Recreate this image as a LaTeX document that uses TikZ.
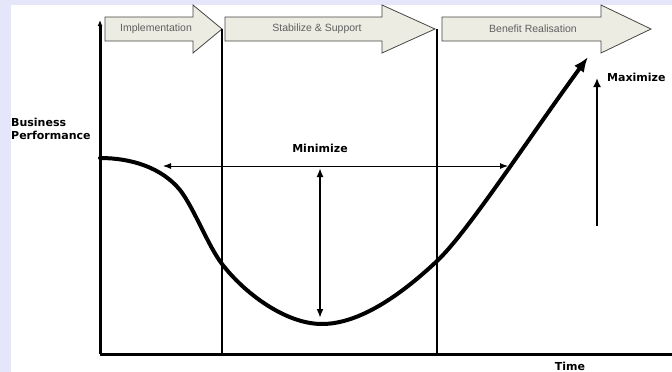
\documentclass[tikz,border=0pt]{standalone}
\usepackage{fontspec}
\setmainfont{Liberation Sans}
\newfontfamily\heavyfont{DejaVu Sans}
\usetikzlibrary{arrows.meta}
\definecolor{bgblue}{RGB}{230,230,250}
\definecolor{phasefill}{RGB}{236,236,226}
\definecolor{phaseline}{RGB}{70,70,70}
\definecolor{phasetext}{RGB}{95,95,95}
\tikzset{
  phase/.style={fill=phasefill, draw=phaseline, line width=0.8pt, line join=miter},
  phaselabel/.style={text=phasetext, font=\fontsize{10.5}{12}\selectfont, inner sep=0pt},
  biglabel/.style={font=\heavyfont\bfseries\fontsize{11}{13}\selectfont, inner sep=0pt, align=left},
  axis/.style={line width=3pt},
  divider/.style={line width=1.5pt},
  perf/.style={line width=4pt, line cap=round, -{Latex[length=15pt,width=12pt]}},
  span/.style={line width=0.9pt, {Latex[length=8pt,width=6pt]}-{Latex[length=8pt,width=6pt]}},
  drop/.style={line width=2pt, {Latex[length=9pt,width=7pt]}-{Latex[length=9pt,width=7pt]}},
  gain/.style={line width=2.5pt, -{Latex[length=9pt,width=8pt]}}
}
\begin{document}
\begin{tikzpicture}[x=1pt,y=-1pt]
\useasboundingbox (0,0) rectangle (672,372);
\fill[bgblue] (0,0) rectangle (672,372);
\fill[white] (11,5) rectangle (672,372);

% phases
\filldraw[phase] (105,17) -- (193,17) -- (193,5) -- (222,29) -- (193,53) -- (193,41) -- (105,41) -- cycle;
\filldraw[phase] (225,17) -- (382,17) -- (382,5) -- (435,29) -- (382,53) -- (382,41) -- (225,41) -- cycle;
\filldraw[phase] (442,17) -- (601,17) -- (601,5) -- (651,29) -- (601,53) -- (601,41) -- (442,41) -- cycle;
\node[phaselabel] (impl) at (156,29) {Implementation};
\node[phaselabel] (stab) at (317,29) {Stabilize \& Support};
\node[phaselabel] (bene) at (533,29) {Benefit Realisation};

% axes and dividers
\coordinate (origin) at (100,354);
\coordinate (ytop) at (100,20);
\coordinate (xend) at (672,354);
\coordinate (d1top) at (222,29);
\coordinate (d1bot) at (222,354);
\coordinate (d2top) at (437,29);
\coordinate (d2bot) at (437,354);
\draw[divider] (d1top) -- (d1bot);
\draw[divider] (d2top) -- (d2bot);
\draw[axis, -{Latex[length=6pt,width=5pt]}] (origin) -- (ytop);
\draw[axis] (origin) -- (xend);

% labels
\node[biglabel, anchor=north west] (perflabel) at (11,118) {Business\\Performance};
\node[biglabel] (mini) at (320,148) {Minimize};
\node[biglabel, anchor=west] (maxi) at (607,77) {Maximize};
\node[biglabel] (time) at (570,366) {Time};

% performance curve
\coordinate (start) at (100,158);
\coordinate (bend) at (180,190);
\coordinate (cross1) at (222,264);
\coordinate (low) at (322,324);
\coordinate (cross2) at (437,261);
\coordinate (peak) at (588,57);
\draw[perf] (start) .. controls (132,158) and (162,168) .. (bend)
  .. controls (194,208) and (208,245.8) .. (cross1)
  .. controls (244,292.6) and (285,324) .. (low)
  .. controls (360,324) and (402,294) .. (cross2)
  .. controls (467,233) and (528,139) .. (peak);

% gaps
\coordinate (hl) at (163,166);
\coordinate (hr) at (508,166);
\coordinate (vt) at (320,168);
\coordinate (vb) at (320,318);
\coordinate (mb) at (597,226);
\coordinate (mt) at (597,78);
\draw[span] (hl) -- (hr);
\draw[drop] (vt) -- (vb);
\draw[gain] (mb) -- (mt);
\end{tikzpicture}
\end{document}
